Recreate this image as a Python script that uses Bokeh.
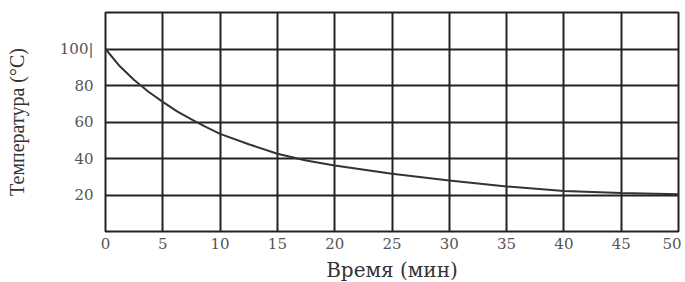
from bokeh.plotting import figure
from bokeh.models import FixedTicker, Range1d
from bokeh.embed import file_html
from bokeh.resources import INLINE

# Data
time_min = [0, 1.25, 2.5, 3.75, 5, 6.25, 7.5, 8.75, 10, 12.5, 15, 17.5, 20, 25, 30, 35, 40, 45, 50]
temp_c = [100, 90.5, 83, 76.6, 71, 65.8, 61.5, 57.3, 53.5, 47.8, 42.6, 38.9, 36.2, 31.7, 28.0, 24.7, 22.2, 21.1, 20.4]
x_ticks = [0, 5, 10, 15, 20, 25, 30, 35, 40, 45, 50]
y_ticks = [20, 40, 60, 80, 100]
y_grid = [0, 20, 40, 60, 80, 100, 120]
x_label = "Время (мин)"
y_label = "Температура (°C)"

p = figure(frame_width=573, frame_height=219, output_backend="svg", toolbar_location=None,
           x_range=Range1d(0, 50), y_range=Range1d(0, 120),
           min_border_left=105, min_border_right=3, min_border_top=12, min_border_bottom=10)
p.background_fill_color = "white"
p.border_fill_color = "white"
p.outline_line_color = "#222222"
p.outline_line_width = 2

p.line(time_min, temp_c, line_color="#333333", line_width=2)

p.xaxis.ticker = FixedTicker(ticks=x_ticks)
p.yaxis.ticker = FixedTicker(ticks=y_ticks)
p.xgrid.ticker = FixedTicker(ticks=x_ticks)
p.ygrid.ticker = FixedTicker(ticks=y_grid)
for g in (p.xgrid, p.ygrid):
    g.grid_line_color = "#222222"
    g.grid_line_width = 2
    g.grid_line_alpha = 1.0

for ax in (p.xaxis, p.yaxis):
    ax.axis_line_color = None
    ax.major_tick_line_color = None
    ax.minor_tick_line_color = None
    ax.major_label_text_font = "DejaVu Serif"
    ax.major_label_text_font_size = "15px"
    ax.major_label_text_color = "#555555"

p.yaxis.major_label_overrides = {100: "100|"}
p.xaxis.major_label_standoff = 0
p.yaxis.major_label_standoff = 6

p.xaxis.axis_label = x_label
p.xaxis.axis_label_text_font = "DejaVu Serif"
p.xaxis.axis_label_text_font_size = "20px"
p.xaxis.axis_label_text_font_style = "normal"
p.xaxis.axis_label_text_color = "#333333"
p.xaxis.axis_label_standoff = 6

p.yaxis.axis_label = y_label
p.yaxis.axis_label_text_font = "Liberation Serif"
p.yaxis.axis_label_text_font_size = "20px"
p.yaxis.axis_label_text_font_style = "normal"
p.yaxis.axis_label_text_color = "#333333"
p.yaxis.axis_label_standoff = 29

open("out.html", "w").write(file_html(p, INLINE))
